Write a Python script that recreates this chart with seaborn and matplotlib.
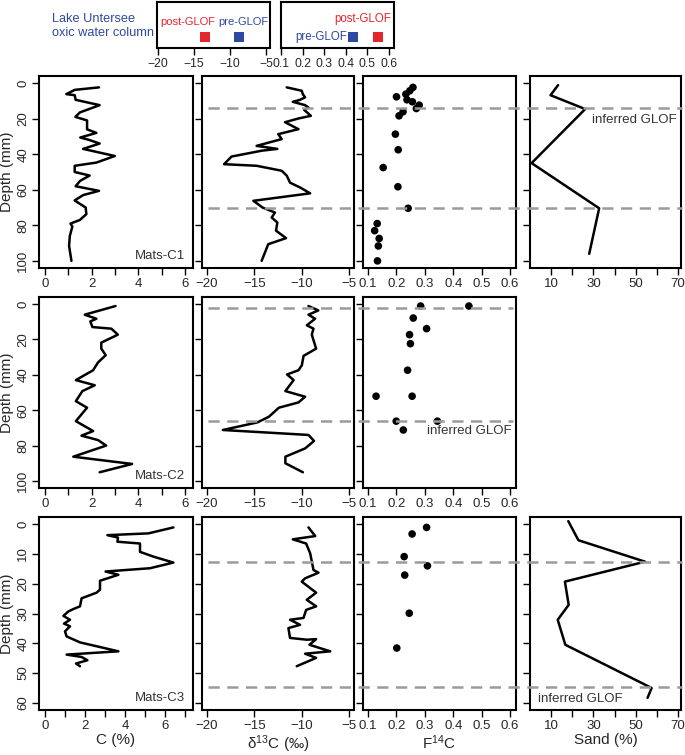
import matplotlib
matplotlib.use('Agg')
import matplotlib.pyplot as plt
import seaborn as sns
from matplotlib.lines import Line2D
from matplotlib.transforms import blended_transform_factory

sns.set_style('ticks')
plt.rcParams['font.family'] = ['Liberation Sans', 'DejaVu Sans']
plt.rcParams['mathtext.default'] = 'regular'

# Mats-C1
c1_depth = [2.4, 3.8, 6.2, 6.8, 9.4, 12.4, 16.5, 19, 21, 26, 28, 30.6, 32, 34, 37, 41, 44.7, 46.5,
            50, 52, 55, 58, 60.6, 63, 66, 70, 73.7, 77, 79, 80.7, 86, 91.6, 100]
c1_carbon = [2.31, 1.27, 0.91, 1.27, 1.31, 2.34, 1.49, 1.3, 1.8, 1.8, 2.2, 1.51, 1.9, 2.34, 1.63, 2.99,
             2.2, 1.27, 1.27, 1.91, 1.5, 1.31, 2.31, 1.63, 1.27, 1.74, 1.77, 1.49, 1.09, 1.17, 1.06, 1.03, 1.13]
c1_d13c_depth = [2.4, 4.3, 6.2, 8, 9.4, 10.5, 12.4, 13.7, 15, 18.4, 19.9, 22, 25.9, 28.7, 31.5, 33, 35.3,
                 37, 38, 41.3, 45.6, 46.5, 49.3, 52, 56, 58.7, 62, 66.2, 70, 72.8, 75.6, 78.4, 83, 87.2, 90.6, 100]
c1_d13c = [-11.58, -9.99, -9.88, -9.64, -10.17, -10.94, -9.64, -9.28, -9.74, -9.03, -10.34, -11.76, -10.34,
           -12.47, -12.11, -13.17, -14.76, -12.57, -14.2, -17.4, -18.2, -14.76, -12.11, -11.58, -11.23, -10.17,
           -9.1, -15.1, -14.13, -12.82, -13.17, -12.57, -12.71, -11.65, -13.53, -14.23]
c1_f14c_depth = [2.4, 4.3, 6.2, 7.7, 9.4, 10.5, 12.4, 14.3, 16.1, 18.4, 28.7, 37.5, 47.5, 58.3, 70.4,
                 79, 83, 87.4, 91.6, 100]
c1_f14c = [0.258, 0.247, 0.233, 0.2, 0.237, 0.256, 0.28, 0.27, 0.223, 0.209, 0.196, 0.206, 0.153, 0.205,
           0.241, 0.132, 0.123, 0.139, 0.136, 0.133]
c1_sand_depth = [1.1, 6.8, 14.6, 45, 70.4, 96]
c1_sand = [13.3, 9.7, 26.1, 0.75, 32.7, 28]

# Mats-C2
c2_depth = [1.1, 6, 8.3, 9.8, 13, 13.9, 17.3, 21.8, 25.2, 28.9, 33, 37.4, 43, 45.9, 49.2, 54.9, 58.6,
            66.2, 71.8, 74.4, 76.9, 80, 86.3, 90.4, 95.1]
c2_carbon = [3.02, 1.7, 2.2, 1.94, 2.03, 2.84, 3.12, 2.41, 2.41, 2.6, 2.27, 2.06, 1.32, 2.13, 1.6, 1.32,
             1.8, 1.32, 2.06, 1.56, 2.27, 2.62, 1.21, 3.73, 2.34]
c2_d13c_depth = [1.1, 3.6, 6, 8.3, 12, 13.9, 17.3, 25.2, 29.3, 34.6, 37.4, 39.8, 43, 49.2, 52.4, 55.6,
                 58.6, 63.7, 66.9, 71.2, 74, 77.4, 81.6, 86.3, 90, 95.1]
c2_d13c = [-9.28, -8.24, -9.28, -8.58, -9.45, -8.75, -8.93, -8.47, -9.8, -9.98, -10.33, -11.54, -10.85,
           -11.72, -9.63, -10.33, -12.41, -13.46, -14.67, -18.33, -9.28, -8.69, -9.63, -11.72, -11.72, -9.87]
c2_f14c_depth = [1.1, 1.1, 7.9, 13.9, 17.3, 22.4, 37.4, 52.1, 52.1, 66.2, 66.2, 71.2]
c2_f14c = [0.285, 0.455, 0.259, 0.306, 0.246, 0.249, 0.239, 0.128, 0.255, 0.199, 0.344, 0.224]

# Mats-C3
c3_depth = [1.1, 3.1, 3.7, 4.5, 5.9, 6.5, 9.3, 10.9, 12.9, 14.8, 15.9, 17, 19, 22, 23, 24.9, 27.6, 28.5,
            29.3, 30.8, 32.1, 33.4, 34.3, 36, 37.7, 39.7, 42.7, 43.8, 44.6, 45.7, 46.8, 47.7]
c3_carbon = [6.42, 5.17, 3.12, 3.65, 3.62, 4.75, 4.75, 5.42, 6.42, 5.25, 3.03, 3.67, 2.75, 2.75, 2.58,
             1.83, 1.75, 1.42, 1.17, 0.92, 1.25, 0.95, 1.25, 1.0, 1.08, 1.75, 3.67, 1.08, 1.83, 2.12, 1.55, 1.75]
c3_d13c_depth = [1.1, 4.0, 5.1, 6.5, 9.8, 15.4, 16.3, 18.2, 19.3, 23, 25.4, 27.6, 28.8, 31.5, 32.1, 33.8,
                 34.9, 38.2, 38.8, 38.6, 40.5, 42.7, 43.5, 44.9, 47.7]
c3_d13c = [-9.28, -8.57, -10.94, -9.53, -9.1, -8.75, -8.22, -9.64, -9.99, -8.47, -9.46, -8.47, -9.53,
           -9.81, -11.23, -10.17, -11.4, -11.23, -9.46, -8.47, -9.18, -6.98, -9.64, -8.47, -10.52]
c3_f14c_depth = [1.1, 3.3, 10.9, 14, 17.1, 29.9, 41.6]
c3_f14c = [0.306, 0.255, 0.227, 0.309, 0.229, 0.245, 0.201]
c3_sand_depth = [-1, 5.4, 12.6, 19.3, 27.1, 32.1, 40.5, 55, 58.3]
c3_sand = [18.1, 22.9, 54.4, 16.5, 18.3, 13.1, 16.7, 57.5, 55.6]

# lake water column values (d13C, F14C)
lake_d13c = {'post-GLOF': -13.5, 'pre-GLOF': -8.75}
lake_f14c = {'pre-GLOF': 0.433, 'post-GLOF': 0.549}

# inferred GLOF depths per core
glof_c1 = [14, 70]
glof_c2 = [2.3, 66]
glof_c3 = [12.7, 54.7]

W, H = 685, 755
RED = '#e3262b'
BLUE = '#2f48a0'
GREY = '#9a9a9a'

fig = plt.figure(figsize=(W / 100, H / 100), dpi=100)


def add_ax(x0, x1, y0, y1):
    return fig.add_axes([x0 / W, 1 - y1 / H, (x1 - x0) / W, (y1 - y0) / H])


cols = [(39, 193), (202, 354), (363, 516), (530, 681)]
rows = [(76, 268), (297, 488), (517, 710)]


def style(ax, size=9.5):
    for s in ax.spines.values():
        s.set_linewidth(1.5)
        s.set_color('black')
    ax.tick_params(direction='out', length=5, width=1, labelsize=size, color='black', pad=2)
    ax.set_xlabel('')
    ax.set_ylabel('')


def profile(ax, x, y):
    sns.lineplot(x=x, y=y, sort=False, estimator=None, color='black', lw=1.8, ax=ax)


def dots(ax, x, y):
    sns.scatterplot(x=x, y=y, color='black', s=30, edgecolor='none', ax=ax, zorder=1)


data_rows = [
    (c1_carbon, c1_depth, c1_d13c, c1_d13c_depth, c1_f14c, c1_f14c_depth, c1_sand, c1_sand_depth),
    (c2_carbon, c2_depth, c2_d13c, c2_d13c_depth, c2_f14c, c2_f14c_depth, None, None),
    (c3_carbon, c3_depth, c3_d13c, c3_d13c_depth, c3_f14c, c3_f14c_depth, c3_sand, c3_sand_depth),
]
glofs = [glof_c1, glof_c2, glof_c3]
names = ['Mats-C1', 'Mats-C2', 'Mats-C3']
dash_end = [682, 513, 682]

for r, (y0, y1) in enumerate(rows):
    cc, cd, dc, dd, fc, fd, sc, sd = data_rows[r]
    if r < 2:
        ylim = (104, -4)
        yt = list(range(0, 101, 20))
    else:
        ylim = (62.4, -2.4)
        yt = list(range(0, 61, 10))

    # carbon
    ax = add_ax(cols[0][0], cols[0][1], y0, y1)
    profile(ax, cc, cd)
    style(ax)
    ax.set_ylim(*ylim)
    ax.set_yticks(yt)
    ax.set_yticklabels([str(v) for v in yt], rotation=90, va='center')
    if r < 2:
        ax.set_xlim(-0.26, 6.34)
        ax.set_xticks(range(7))
        ax.set_xticklabels(['0', '', '2', '', '4', '', '6'])
    else:
        ax.set_xlim(-0.3, 7.4)
        ax.set_xticks(range(8))
        ax.set_xticklabels(['0', '', '2', '', '4', '', '6', ''])
        ax.set_xlabel('C (%)', fontsize=11, labelpad=1)
    ax.set_ylabel('Depth (mm)', fontsize=11, labelpad=2)
    ax.text(0.95, 0.03, names[r], transform=ax.transAxes, ha='right', va='bottom',
            fontsize=9.5, color='#333333')

    # d13C
    ax2 = add_ax(cols[1][0], cols[1][1], y0, y1)
    profile(ax2, dc, dd)
    style(ax2)
    ax2.set_ylim(*ylim)
    ax2.set_yticks(yt)
    ax2.set_yticklabels([])
    ax2.set_xlim(-20.53, -4.47)
    ax2.set_xticks([-20, -15, -10, -5])
    if r == 2:
        ax2.set_xlabel('δ$^{13}$C (‰)', fontsize=11, labelpad=1)

    # F14C
    ax3 = add_ax(cols[2][0], cols[2][1], y0, y1)
    dots(ax3, fc, fd)
    style(ax3)
    ax3.set_ylim(*ylim)
    ax3.set_yticks(yt)
    ax3.set_yticklabels([])
    ax3.set_xlim(0.082, 0.621)
    ax3.set_xticks([0.1, 0.2, 0.3, 0.4, 0.5, 0.6])
    ax3.set_xticklabels(['0.1', '0.2', '0.3', '0.4', '0.5', '0.6'])
    if r == 2:
        ax3.set_xlabel('F$^{14}$C', fontsize=11, labelpad=1)

    # sand
    if sc is not None:
        ax4 = add_ax(cols[3][0], cols[3][1], y0, y1)
        profile(ax4, sc, sd)
        style(ax4)
        ax4.set_ylim(*ylim)
        ax4.set_yticks(yt)
        ax4.set_yticklabels([])
        ax4.set_xlim(0, 71.4)
        ax4.set_xticks(range(10, 71, 10))
        ax4.set_xticklabels(['10', '', '30', '', '50', '', '70'])
        if r == 2:
            ax4.set_xlabel('Sand (%)', fontsize=11, labelpad=1)

    # inferred GLOF dashed lines across panels
    tr = blended_transform_factory(fig.transFigure, ax2.transData)
    for g in glofs[r]:
        fig.add_artist(Line2D([208 / W, dash_end[r] / W], [g, g], transform=tr, color=GREY,
                              lw=1.8, dashes=(4.5, 3), zorder=5))

    if r == 0:
        ax4.text(0.97, 21, 'inferred GLOF', transform=blended_transform_factory(ax4.transAxes, ax4.transData),
                 ha='right', va='center', fontsize=9.5, color='#333333')
    elif r == 1:
        ax3.text(0.97, 71.7, 'inferred GLOF', transform=blended_transform_factory(ax3.transAxes, ax3.transData),
                 ha='right', va='center', fontsize=9.5, color='#333333')
    else:
        ax4.text(0.05, 58.7, 'inferred GLOF', transform=blended_transform_factory(ax4.transAxes, ax4.transData),
                 ha='left', va='center', fontsize=9.5, color='#333333')

# lake water column panels
axl = add_ax(157, 270, 2, 48)
sns.scatterplot(x=list(lake_d13c.values()), y=[0.24, 0.24], hue=list(lake_d13c.keys()),
                palette={'post-GLOF': RED, 'pre-GLOF': BLUE}, marker='s', s=55, edgecolor='none',
                legend=False, ax=axl)
style(axl, 8.7)
axl.set_xlim(-20.14, -4.44)
axl.set_ylim(0, 1)
axl.set_yticks([])
axl.set_xticks([-20, -15, -10, -5])
axl.text(-15.8, 0.57, 'post-GLOF', color=RED, ha='center', va='center', fontsize=8)
axl.text(-8.1, 0.57, 'pre-GLOF', color=BLUE, ha='center', va='center', fontsize=8)

axf = add_ax(281, 394, 2, 48)
sns.scatterplot(x=list(lake_f14c.values()), y=[0.24, 0.24], hue=list(lake_f14c.keys()),
                palette={'post-GLOF': RED, 'pre-GLOF': BLUE}, marker='s', s=55, edgecolor='none',
                legend=False, ax=axf)
style(axf, 8.7)
axf.set_xlim(0.1, 0.623)
axf.set_ylim(0, 1)
axf.set_yticks([])
axf.set_xticks([0.1, 0.2, 0.3, 0.4, 0.5, 0.6])
axf.set_xticklabels(['0.1', '0.2', '0.3', '0.4', '0.5', '0.6'])
axf.text(0.612, 0.62, 'post-GLOF', color=RED, ha='right', va='center', fontsize=8.3)
axf.text(0.405, 0.24, 'pre-GLOF', color=BLUE, ha='right', va='center', fontsize=8.3)

fig.text(52 / W, 1 - 26 / H, 'Lake Untersee\noxic water column', color=BLUE, ha='left',
         va='center', fontsize=9.2, linespacing=1.25)

fig.savefig('out.png', dpi=100)
